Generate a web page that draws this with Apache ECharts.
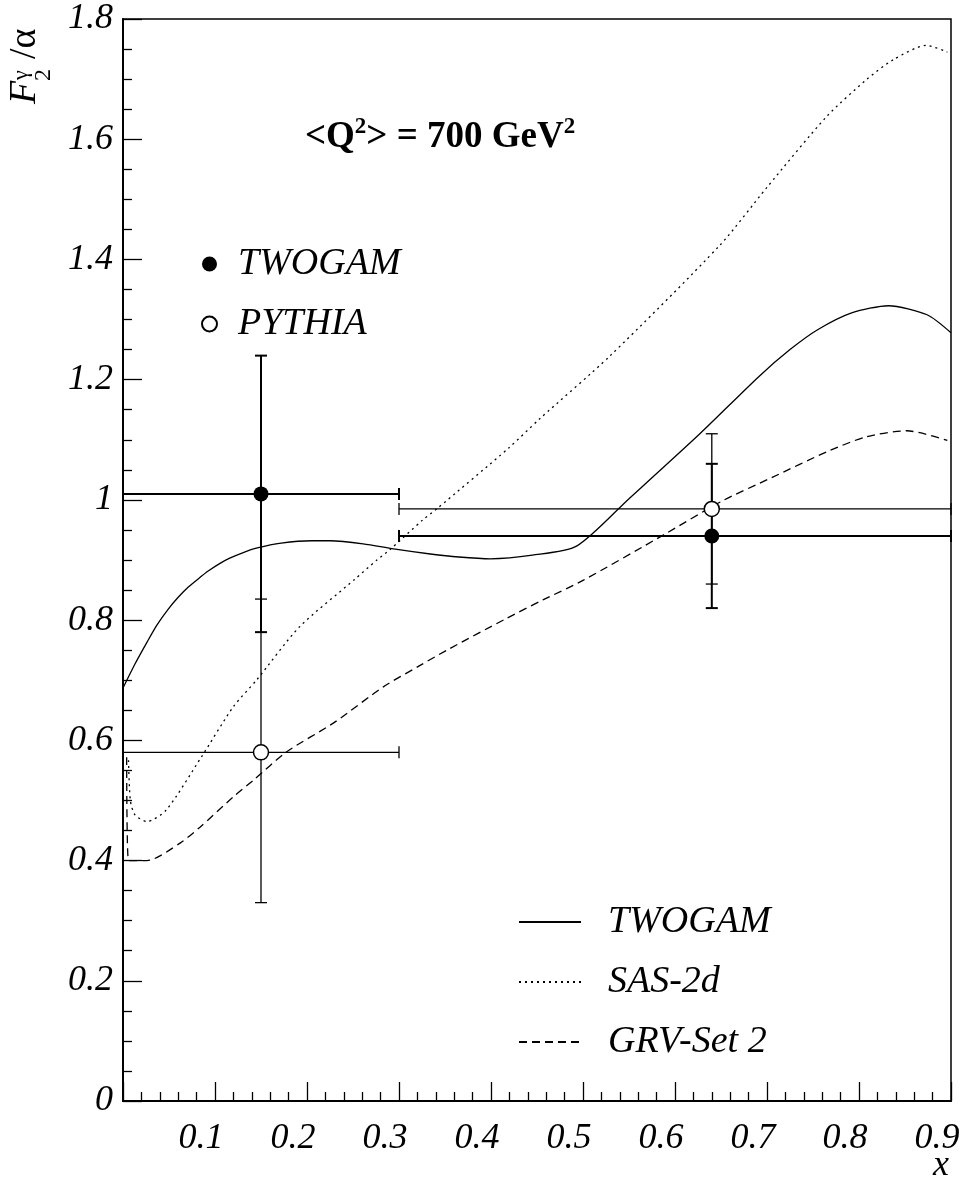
<!DOCTYPE html>
<html>
<head>
<meta charset="utf-8">
<script src="https://cdn.jsdelivr.net/npm/echarts@6/dist/echarts.min.js"></script>
<style>
  html, body { margin: 0; padding: 0; background: #fff; }
  #chart { width: 977px; height: 1182px; }
</style>
</head>
<body>
<div id="chart"></div>
<script>
// data points: [x, y, xLow, xHigh, yLow, yHigh]
const twogamPoints = [
  [0.15, 1.01, 0.0, 0.3, 0.78, 1.24],
  [0.64, 0.94, 0.3, 0.9, 0.82, 1.06]
]
const pythiaPoints = [
  [0.15, 0.58, 0.0, 0.3, 0.33, 0.835],
  [0.64, 0.985, 0.3, 0.9, 0.86, 1.11]
]

// theory curves, [x, F2/alpha]
const twogamCurve = [
  [0.0, 0.687], [0.013, 0.727], [0.026, 0.763], [0.037, 0.792], [0.049, 0.818],
  [0.06, 0.838], [0.071, 0.855], [0.082, 0.869], [0.093, 0.882], [0.105, 0.894],
  [0.116, 0.903], [0.13, 0.912], [0.146, 0.920], [0.172, 0.928], [0.205, 0.932],
  [0.225, 0.932], [0.261, 0.927], [0.296, 0.918], [0.334, 0.910], [0.365, 0.905],
  [0.399, 0.902], [0.445, 0.908], [0.493, 0.923], [0.55, 1.002], [0.627, 1.11],
  [0.691, 1.205], [0.725, 1.25], [0.755, 1.283], [0.792, 1.311], [0.832, 1.323],
  [0.874, 1.308], [0.9, 1.278]
]
const sasCurve = [
  [0.006, 0.567], [0.008, 0.50], [0.013, 0.476], [0.026, 0.465], [0.047, 0.484],
  [0.0855, 0.573], [0.12, 0.656], [0.145, 0.70], [0.192, 0.789], [0.252, 0.868],
  [0.276, 0.90], [0.29, 0.917], [0.326, 0.967], [0.341, 0.985], [0.419, 1.086],
  [0.453, 1.135], [0.529, 1.239], [0.649, 1.424], [0.70, 1.52], [0.765, 1.638],
  [0.808, 1.699], [0.837, 1.732], [0.873, 1.756], [0.896, 1.745]
]
const grvCurve = [
  [0.004, 0.572], [0.006, 0.40], [0.026, 0.40], [0.062, 0.429], [0.084, 0.456],
  [0.12, 0.506], [0.142, 0.534], [0.178, 0.581], [0.229, 0.629], [0.283, 0.689],
  [0.321, 0.723], [0.352, 0.75], [0.417, 0.803], [0.457, 0.834], [0.5, 0.866],
  [0.589, 0.943], [0.651, 0.998], [0.705, 1.037], [0.765, 1.08], [0.808, 1.105],
  [0.852, 1.115], [0.896, 1.099]
]

const xRange = [0, 0.9]
const yRange = [0, 1.8]

const font = '"Liberation Serif", "DejaVu Serif", serif'
const chart = echarts.init(document.getElementById('chart'))

// horizontal bin bar + vertical error bar with end caps
const errorBars = width => (params, api) => {
  const c = api.coord([api.value(0), api.value(1)])
  const xl = api.coord([api.value(2), api.value(1)])
  const xh = api.coord([api.value(3), api.value(1)])
  const yl = api.coord([api.value(0), api.value(4)])
  const yh = api.coord([api.value(0), api.value(5)])
  const cap = 6
  const style = { stroke: '#000', lineWidth: width }
  const seg = (x1, y1, x2, y2) => ({ type: 'line', shape: { x1, y1, x2, y2 }, style })
  return {
    type: 'group',
    children: [
      seg(xl[0], c[1], xh[0], c[1]),
      seg(xl[0], c[1] - cap, xl[0], c[1] + cap),
      seg(xh[0], c[1] - cap, xh[0], c[1] + cap),
      seg(c[0], yl[1], c[0], yh[1]),
      seg(c[0] - cap, yl[1], c[0] + cap, yl[1]),
      seg(c[0] - cap, yh[1], c[0] + cap, yh[1])
    ]
  }
}

const lineSeries = (name, data, dash) => ({
  name,
  type: 'line',
  data,
  smooth: 0.25,
  showSymbol: false,
  symbol: 'none',
  lineStyle: { color: '#000', width: 1.3, type: dash },
  itemStyle: { color: '#000' },
  z: 3
})

const option = {
  animation: false,
  backgroundColor: '#fff',
  textStyle: { fontFamily: font },
  grid: {
    left: 123, right: 26, top: 19, bottom: 81,
    show: true, borderColor: '#000', borderWidth: 1.5,
    outerBoundsMode: 'none'
  },
  xAxis: {
    type: 'value',
    min: xRange[0], max: xRange[1], interval: 0.1,
    axisLine: { lineStyle: { color: '#000', width: 2 } },
    axisTick: { inside: true, length: 19, lineStyle: { color: '#000', width: 1.3 } },
    minorTick: { show: true, splitNumber: 5, length: 9, lineStyle: { color: '#000', width: 1.3 } },
    splitLine: { show: false },
    axisLabel: {
      fontFamily: font, fontStyle: 'italic', fontSize: 36, color: '#000',
      margin: 20, padding: [0, 28, 0, 0],
      formatter: v => v === 0 ? '' : v.toFixed(1)
    }
  },
  yAxis: {
    type: 'value',
    min: yRange[0], max: yRange[1], interval: 0.2,
    axisLine: { lineStyle: { color: '#000', width: 2 } },
    axisTick: { inside: true, length: 19, lineStyle: { color: '#000', width: 1.3 } },
    minorTick: { show: true, splitNumber: 4, length: 9, lineStyle: { color: '#000', width: 1.3 } },
    splitLine: { show: false },
    axisLabel: {
      fontFamily: font, fontStyle: 'italic', fontSize: 36, color: '#000',
      margin: 10,
      formatter: v => String(+v.toFixed(1))
    }
  },
  legend: [
    {
      data: ['TWOGAM', 'PYTHIA'],
      orient: 'vertical',
      left: 196, top: 240,
      itemWidth: 15, itemHeight: 15, itemGap: 22,
      selectedMode: false,
      textStyle: { fontFamily: font, fontStyle: 'italic', fontSize: 38, color: '#000', padding: [0, 0, 0, 16] }
    },
    {
      data: ['TWOGAM curve', 'SAS-2d', 'GRV-Set 2'],
      orient: 'vertical',
      left: 518, top: 903, padding: 0,
      itemWidth: 62, itemHeight: 14, itemGap: 22,
      selectedMode: false,
      itemStyle: { opacity: 0 },
      formatter: name => name.replace(' curve', ''),
      textStyle: { fontFamily: font, fontStyle: 'italic', fontSize: 38, color: '#000', padding: [0, 0, 0, 22] }
    }
  ],
  graphic: [
    {
      type: 'text', left: 305, top: 116,
      style: {
        text: '{b|<Q}{s|2}{b|> = 700 GeV}{s|2}',
        rich: {
          b: { fontFamily: font, fontWeight: 'bold', fontSize: 37, color: '#000', verticalAlign: 'bottom', lineHeight: 40 },
          s: { fontFamily: font, fontWeight: 'bold', fontSize: 23, color: '#000', verticalAlign: 'top', lineHeight: 40 }
        }
      }
    },
    {
      type: 'group', x: 44, y: 104, rotation: Math.PI / 2,
      children: [
        { type: 'text', x: 0, y: 0, style: { text: 'F', font: 'italic 38px ' + font, fill: '#000', verticalAlign: 'bottom' } },
        { type: 'text', x: 23, y: 12, style: { text: '2', font: '24px ' + font, fill: '#000', verticalAlign: 'bottom' } },
        { type: 'text', x: 24, y: -12, style: { text: 'γ', font: '22px ' + font, fill: '#000', verticalAlign: 'bottom' } },
        { type: 'text', x: 45, y: 0, style: { text: '/α', font: '38px ' + font, fill: '#000', verticalAlign: 'bottom' } }
      ]
    },
    {
      type: 'text', left: 933, top: 1148,
      style: { text: 'x', font: 'italic 36px ' + font, fill: '#000' }
    }
  ],
  series: [
    lineSeries('TWOGAM curve', twogamCurve, 'solid'),
    lineSeries('SAS-2d', sasCurve, [2, 4]),
    lineSeries('GRV-Set 2', grvCurve, [8, 5]),
    {
      name: 'TWOGAM bars', type: 'custom', data: twogamPoints,
      renderItem: errorBars(2), encode: { x: 0, y: 1 }, z: 4, silent: true
    },
    {
      name: 'PYTHIA bars', type: 'custom', data: pythiaPoints,
      renderItem: errorBars(1.3), encode: { x: 0, y: 1 }, z: 4, silent: true
    },
    {
      name: 'TWOGAM', type: 'scatter', symbol: 'circle', symbolSize: 15,
      data: twogamPoints.map(p => [p[0], p[1]]),
      itemStyle: { color: '#000', opacity: 1 }, z: 5
    },
    {
      name: 'PYTHIA', type: 'scatter', symbol: 'circle', symbolSize: 15,
      data: pythiaPoints.map(p => [p[0], p[1]]),
      itemStyle: { color: '#fff', borderColor: '#000', borderWidth: 1.5, opacity: 1 }, z: 5
    }
  ]
}

chart.setOption(option)
</script>
</body>
</html>
